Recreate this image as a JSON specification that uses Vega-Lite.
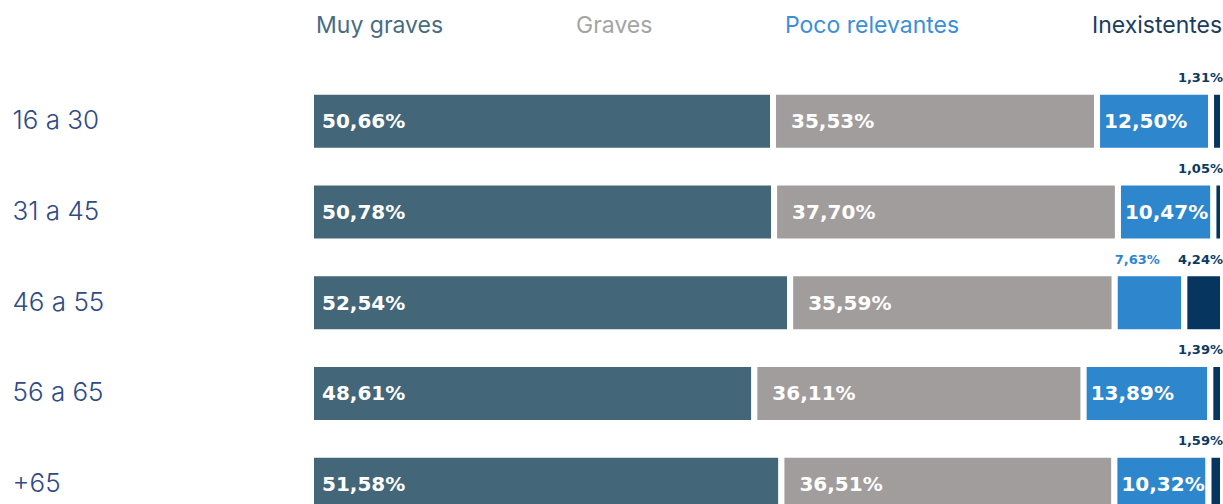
{
  "$schema": "https://vega.github.io/schema/vega-lite/v6.json",
  "width": 912,
  "height": 428,
  "autosize": {"type": "none"},
  "padding": {"top": 76, "left": 311, "right": 0, "bottom": 0},
  "background": "white",
  "config": {
    "view": {"stroke": null},
    "locale": {"number": {"decimal": ",", "thousands": ".", "grouping": [3], "currency": ["", " €"]}},
    "font": "Inter"
  },
  "data": {
    "values": [
      {"age": "16 a 30", "cat": "Muy graves", "ord": 1, "value": 0.5066},
      {"age": "16 a 30", "cat": "Graves", "ord": 2, "value": 0.3553},
      {"age": "16 a 30", "cat": "Poco relevantes", "ord": 3, "value": 0.1250},
      {"age": "16 a 30", "cat": "Inexistentes", "ord": 4, "value": 0.0131},
      {"age": "31 a 45", "cat": "Muy graves", "ord": 1, "value": 0.5078},
      {"age": "31 a 45", "cat": "Graves", "ord": 2, "value": 0.3770},
      {"age": "31 a 45", "cat": "Poco relevantes", "ord": 3, "value": 0.1047},
      {"age": "31 a 45", "cat": "Inexistentes", "ord": 4, "value": 0.0105},
      {"age": "46 a 55", "cat": "Muy graves", "ord": 1, "value": 0.5254},
      {"age": "46 a 55", "cat": "Graves", "ord": 2, "value": 0.3559},
      {"age": "46 a 55", "cat": "Poco relevantes", "ord": 3, "value": 0.0763},
      {"age": "46 a 55", "cat": "Inexistentes", "ord": 4, "value": 0.0424},
      {"age": "56 a 65", "cat": "Muy graves", "ord": 1, "value": 0.4861},
      {"age": "56 a 65", "cat": "Graves", "ord": 2, "value": 0.3611},
      {"age": "56 a 65", "cat": "Poco relevantes", "ord": 3, "value": 0.1389},
      {"age": "56 a 65", "cat": "Inexistentes", "ord": 4, "value": 0.0139},
      {"age": "+65", "cat": "Muy graves", "ord": 1, "value": 0.5158},
      {"age": "+65", "cat": "Graves", "ord": 2, "value": 0.3651},
      {"age": "+65", "cat": "Poco relevantes", "ord": 3, "value": 0.1032},
      {"age": "+65", "cat": "Inexistentes", "ord": 4, "value": 0.0159}
    ]
  },
  "transform": [
    {"stack": "value", "groupby": ["age"], "sort": [{"field": "ord", "order": "ascending"}], "as": ["x0", "x1"]}
  ],
  "encoding": {
    "y": {
      "field": "age", "type": "nominal",
      "sort": ["16 a 30", "31 a 45", "46 a 55", "56 a 65", "+65"],
      "scale": {"range": [0, 453.5], "paddingInner": 0.35, "paddingOuter": 0.175},
      "axis": {
        "title": null, "domain": false, "ticks": false,
        "labelAlign": "left", "labelPadding": 299,
        "labelFontSize": 26, "labelFont": "Inter", "labelFontWeight": 300,
        "labelColor": "#2f4a85"
      }
    }
  },
  "layer": [
    {
      "mark": {"type": "bar", "stroke": "white", "strokeWidth": 6, "clip": true},
      "encoding": {
        "x": {"field": "x0", "type": "quantitative", "scale": {"domain": [0, 1], "nice": false, "zero": true}, "axis": null},
        "x2": {"field": "x1"},
        "color": {
          "field": "cat", "type": "nominal",
          "scale": {
            "domain": ["Muy graves", "Graves", "Poco relevantes", "Inexistentes"],
            "range": ["#436678", "#a19d9c", "#2e86cc", "#06365f"]
          },
          "legend": {
            "title": null,
            "orient": "none",
            "legendX": -18,
            "legendY": -62,
            "direction": "horizontal",
            "symbolSize": 0,
            "symbolOpacity": 0,
            "symbolStrokeWidth": 0,
            "labelOffset": 0,
            "labelFontSize": 23,
            "labelFont": "Inter",
            "labelFontWeight": 400,
            "labelLimit": 400,
            "columnPadding": 109,
            "padding": 0,
            "encoding": {
              "labels": {
                "fill": {
                  "condition": [
                    {"test": "datum.value === 'Muy graves'", "value": "#4a6b82"},
                    {"test": "datum.value === 'Graves'", "value": "#a4a4a4"},
                    {"test": "datum.value === 'Poco relevantes'", "value": "#3b8fd6"}
                  ],
                  "value": "#1d3d5e"
                }
              }
            }
          }
        }
      }
    },
    {
      "transform": [{"filter": "datum.cat === 'Muy graves'"}],
      "mark": {"type": "text", "align": "left", "baseline": "middle", "dx": 11, "dy": 1, "fontSize": 20, "fontWeight": 700, "color": "white", "font": "DejaVu Sans"},
      "encoding": {
        "x": {"field": "x0", "type": "quantitative"},
        "text": {"field": "value", "type": "quantitative", "format": ".2%"}
      }
    },
    {
      "transform": [{"filter": "datum.cat === 'Graves'"}],
      "mark": {"type": "text", "align": "left", "baseline": "middle", "dx": 18, "dy": 1, "fontSize": 20, "fontWeight": 700, "color": "white", "font": "DejaVu Sans"},
      "encoding": {
        "x": {"field": "x0", "type": "quantitative"},
        "text": {"field": "value", "type": "quantitative", "format": ".2%"}
      }
    },
    {
      "transform": [{"filter": "datum.cat === 'Poco relevantes' && datum.value >= 0.1"}],
      "mark": {"type": "text", "align": "left", "baseline": "middle", "dx": 7, "dy": 1, "fontSize": 20, "fontWeight": 700, "color": "white", "font": "DejaVu Sans"},
      "encoding": {
        "x": {"field": "x0", "type": "quantitative"},
        "text": {"field": "value", "type": "quantitative", "format": ".2%"}
      }
    },
    {
      "transform": [{"filter": "datum.cat === 'Inexistentes'"}],
      "mark": {"type": "text", "align": "right", "baseline": "middle", "dx": 0, "dy": -43, "fontSize": 13, "fontWeight": 700, "color": "#0a3a62", "font": "DejaVu Sans"},
      "encoding": {
        "x": {"field": "x1", "type": "quantitative"},
        "text": {"field": "value", "type": "quantitative", "format": ".2%"}
      }
    },
    {
      "transform": [{"filter": "datum.cat === 'Poco relevantes' && datum.value < 0.1"}],
      "mark": {"type": "text", "align": "left", "baseline": "middle", "dx": 0, "dy": -43, "fontSize": 13, "fontWeight": 700, "color": "#2e86cc", "font": "DejaVu Sans"},
      "encoding": {
        "x": {"field": "x0", "type": "quantitative"},
        "text": {"field": "value", "type": "quantitative", "format": ".2%"}
      }
    }
  ]
}
